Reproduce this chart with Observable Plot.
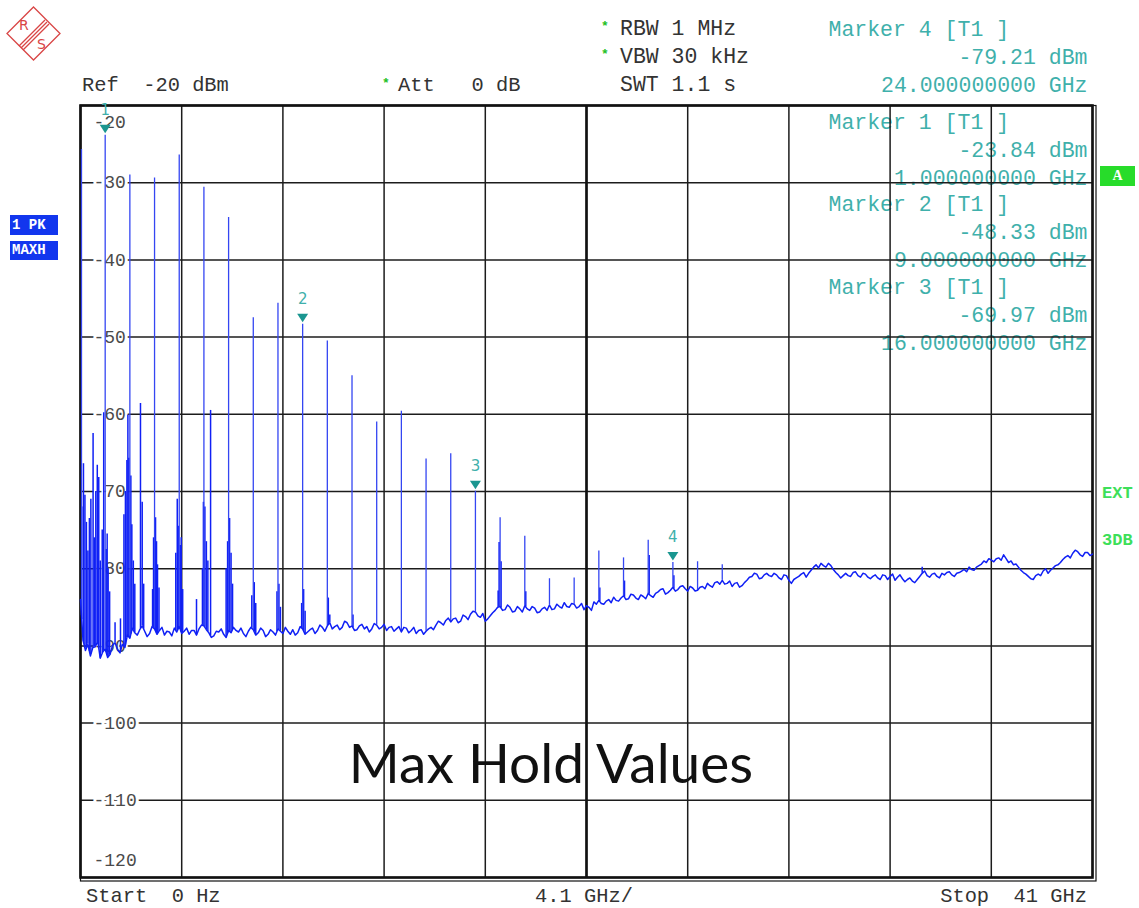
<!DOCTYPE html>
<html><head><meta charset="utf-8">
<script src="https://cdn.jsdelivr.net/npm/d3@7"></script>
<script src="https://cdn.jsdelivr.net/npm/@observablehq/plot@0.6"></script>
<style>
html,body{margin:0;padding:0;background:#fff;}
#page{position:relative;width:1139px;height:908px;overflow:hidden;background:#fff;}
#chart{position:absolute;left:0;top:0;}
.t{position:absolute;white-space:pre;font-family:"Liberation Mono",monospace;line-height:1;transform:translateY(-50%);color:#333;}
.star{position:absolute;font-family:"Liberation Mono",monospace;font-size:13px;font-weight:bold;color:#22c022;line-height:1;}
.box{position:absolute;white-space:pre;color:#fff;font-family:"Liberation Mono",monospace;font-weight:bold;overflow:hidden;}
</style></head>
<body>
<div id="page">
  <div id="chart"></div>

  <svg style="position:absolute;left:0;top:0" width="70" height="70" viewBox="0 0 70 70">
    <g fill="none" stroke="#d94545" stroke-width="1.3">
      <path d="M33.5 7 L60 33.5 L33.5 60 L7 33.5 Z"/>
      <path d="M19 46 L45 20 M21 48 L47 22 M23 50 L49 24"/>
    </g>
    <text x="19" y="30" font-family="DejaVu Sans" font-size="14" fill="#d94545">R</text>
    <text x="37" y="49" font-family="DejaVu Sans" font-size="14" fill="#d94545">S</text>
  </svg>

  <div class="t" style="left:82px;top:86px;font-size:20.4px">Ref  -20 dBm</div>
  <div class="star" style="left:382px;top:77px">*</div>
  <div class="t" style="left:398px;top:86px;font-size:20.4px">Att   0 dB</div>
  <div class="star" style="left:601px;top:20px">*</div>
  <div class="t" style="left:620px;top:30px;font-size:21.5px">RBW 1 MHz</div>
  <div class="star" style="left:601px;top:48px">*</div>
  <div class="t" style="left:620px;top:58px;font-size:21.5px">VBW 30 kHz</div>
  <div class="t" style="left:620px;top:86px;font-size:21.5px">SWT 1.1 s</div>

  <div class="box" style="left:10px;top:215px;width:48px;height:20px;background:#1236ee;font-size:14px;line-height:20px;padding-left:2px;box-sizing:border-box">1 PK</div>
  <div class="box" style="left:10px;top:241px;width:48px;height:19px;background:#1236ee;font-size:14px;line-height:19px;padding-left:2px;box-sizing:border-box">MAXH</div>
  <div class="box" style="left:1100px;top:166px;width:35px;height:20px;background:#27dc2a;font-size:14px;line-height:20px;text-align:center;font-family:'Liberation Serif',serif">A</div>
  <div class="t" style="left:1102px;top:493px;font-size:17px;font-weight:bold;color:#3ddf5a">EXT</div>
  <div class="t" style="left:1102px;top:540px;font-size:17px;font-weight:bold;color:#3ddf5a">3DB</div>

  <div class="t" style="left:86px;top:897px;font-size:20.4px">Start  0 Hz</div>
  <div class="t" style="left:535px;top:897px;font-size:20.4px">4.1 GHz/</div>
  <div class="t" style="right:52px;top:897px;font-size:20.4px">Stop  41 GHz</div>

  <div style="position:absolute;left:551px;top:762px;transform:translate(-50%,-50%);font-family:Lato,'Open Sans',sans-serif;font-size:55px;line-height:1;color:#111;white-space:pre">Max Hold Values</div>
</div>
<script>
// ---- data ----
const floorStepGHz = 0.2;
// max-hold noise floor (dBm) at k, k+0.2, k+0.4, k+0.6, k+0.8 GHz (one row per GHz)
const floorDbm = [
  -84.0, -90.6, -91.3, -90.1, -91.6,
  -90.4, -91.1, -89.6, -90.9, -90.2,
  -89.0, -88.3, -87.9, -88.1, -88.4,
  -87.8, -88.0, -88.6, -88.2, -87.7,
  -87.5, -88.1, -88.5, -88.0, -87.8,
  -87.4, -88.3, -88.7, -88.2, -88.5,
  -88.0, -87.6, -88.2, -88.4, -88.1,
  -87.9, -88.3, -88.0, -88.5, -88.2,
  -87.8, -88.4, -88.1, -87.9, -88.3,
  -87.8, -88.2, -87.7, -88.0, -87.6,
  -87.4, -87.8, -87.3, -87.6, -87.0,
  -87.4, -87.9, -87.2, -87.5, -87.8,
  -87.3, -87.6, -88.0, -87.5, -87.8,
  -88.2, -87.7, -88.0, -88.4, -87.9,
  -88.1, -87.6, -87.3, -87.0, -86.7,
  -86.9, -86.4, -86.8, -86.2, -85.9,
  -85.6, -86.3, -86.8, -86.1, -85.4,
  -84.9, -85.3, -85.0, -85.5, -85.2,
  -84.8, -85.4, -85.1, -85.6, -85.0,
  -84.7, -85.2, -84.9, -84.4, -85.0,
  -84.6, -84.9, -85.3, -85.0, -84.3,
  -84.1, -84.6, -84.0, -83.7, -84.2,
  -83.5, -83.9, -83.4, -84.0, -83.6,
  -83.2, -83.7, -83.0, -82.6, -83.1,
  -82.4, -82.7, -82.2, -82.9, -82.5,
  -82.8, -82.3, -81.9, -82.4, -81.7,
  -81.5, -81.9, -82.3, -81.8, -82.2,
  -81.5, -81.0, -80.7, -81.2, -80.6,
  -81.0, -80.8, -81.4, -80.9, -81.9,
  -81.2, -80.7, -81.1, -80.2, -79.5,
  -79.3, -79.8, -79.6, -80.5, -81.2,
  -80.6, -81.0, -80.4, -81.1, -80.7,
  -81.3, -80.8, -81.4, -80.9, -81.0,
  -81.5, -80.8, -81.7, -81.2, -81.8,
  -81.0, -80.3, -81.1, -80.6, -81.2,
  -80.8, -80.4, -81.0, -80.5, -80.1,
  -79.8, -80.2, -79.6, -79.0, -78.7,
  -79.1, -78.6, -78.2, -79.2, -79.5,
  -79.8, -80.5, -81.0, -81.4, -80.7,
  -80.3, -80.6, -79.9, -79.5, -78.8,
  -78.3, -78.0, -77.8, -78.4, -77.9,
  -78.1
];
// in-between trace samples at k+0.1, k+0.3, k+0.5, k+0.7, k+0.9 GHz (one row per GHz)
const floorMidDbm = [
  -89.2, -89.8, -90.2, -89.4, -90.8,
  -91.5, -89.9, -90.5, -89.8, -88.6,
  -87.7, -88.6, -87.4, -88.8, -87.5,
  -88.5, -87.6, -88.1, -88.7, -88.2,
  -88.4, -87.7, -88.0, -88.6, -87.3,
  -87.9, -88.9, -88.1, -87.8, -88.9,
  -88.3, -88.0, -87.7, -88.8, -87.6,
  -88.6, -87.7, -88.8, -87.9, -88.6,
  -88.1, -87.6, -88.5, -88.6, -87.5,
  -88.5, -87.9, -88.4, -87.3, -88.1,
  -87.0, -87.5, -87.9, -86.8, -87.6,
  -88.0, -87.4, -87.8, -88.2, -87.1,
  -87.8, -87.2, -87.6, -88.1, -87.5,
  -87.6, -88.3, -87.6, -88.0, -88.5,
  -87.8, -87.9, -86.8, -87.3, -86.4,
  -86.5, -87.0, -86.0, -86.6, -85.5,
  -86.1, -85.8, -86.5, -85.7, -85.0,
  -85.4, -84.7, -85.6, -84.9, -85.6,
  -85.2, -84.9, -85.7, -85.2, -85.4,
  -85.3, -84.6, -85.1, -84.9, -84.5,
  -85.1, -84.5, -84.8, -85.4, -84.6,
  -84.5, -84.2, -84.4, -84.1, -83.8,
  -84.0, -83.3, -83.8, -83.4, -83.9,
  -83.5, -83.2, -82.7, -83.3, -82.8,
  -82.9, -82.3, -82.6, -82.3, -82.9,
  -82.4, -82.6, -82.2, -81.8, -82.0,
  -82.0, -81.6, -81.9, -82.4, -81.8,
  -81.1, -80.6, -81.3, -80.8, -80.9,
  -80.6, -81.2, -80.8, -81.5, -81.4,
  -81.0, -80.5, -80.6, -79.8, -79.9,
  -79.6, -79.3, -80.1, -80.8, -80.9,
  -80.9, -80.5, -80.9, -80.6, -81.1,
  -81.0, -81.2, -80.8, -81.4, -80.7,
  -81.1, -81.3, -81.4, -81.6, -81.4,
  -80.6, -80.9, -80.7, -81.0, -80.6,
  -80.5, -80.8, -80.6, -80.3, -80.4,
  -80.1, -79.8, -79.4, -79.2, -78.9,
  -78.7, -78.9, -78.7, -79.0, -79.4,
  -80.2, -80.7, -81.3, -80.9, -80.9,
  -80.0, -80.2, -79.6, -79.2, -78.5,
  -78.6, -77.6, -78.2, -77.9, -78.3
];
// harmonic comb lines
const harmonicGHz = [0.04, 1, 2, 3, 4, 5, 6, 7, 8, 9, 10, 11, 12, 13, 14, 15, 16, 17, 18, 19, 20, 21, 22, 23, 24, 25, 26];
const harmonicDbm = [-25.7, -23.84, -29.0, -29.4, -26.4, -30.6, -34.5, -47.5, -45.6, -48.33, -50.5, -55.0, -61.0, -59.6, -65.8, -65.1, -69.97, -73.4, -75.8, -81.3, -81.2, -77.7, -78.6, -76.3, -79.21, -79.1, -79.5];
// secondary spurs / skirts around the harmonics
const spurGHz = [0.05, 0.12, 0.18, 0.24, 0.30, 0.36, 0.42, 0.51, 0.56, 0.62, 0.68, 0.74, 0.80, 0.88, 0.94,
  1.04, 1.08, 1.12, 1.18, 1.40, 1.62, 1.76, 1.82, 1.88, 1.92, 1.96, 2.04, 2.08, 2.14, 2.20,
  2.43, 2.50, 2.56, 2.92, 2.96, 3.04, 3.08, 3.12, 3.18, 3.86, 3.92, 3.96, 4.04, 4.08, 4.14,
  4.70, 4.94, 4.98, 5.04, 5.10, 5.16, 5.27, 5.90, 5.96, 6.04, 6.10, 6.16, 6.94, 7.04, 7.10,
  7.96, 8.04, 8.10, 8.96, 9.04, 9.10, 10.04, 10.10, 11.04, 16.92, 16.96, 17.04, 18.04, 21.04,
  22.04, 23.04, 24.04, 34.10];
const spurDbm = [-72.0, -66.4, -70.5, -74.0, -77.7, -73.5, -71.0, -62.5, -76.0, -70.0, -66.6, -68.2, -79.0, -75.0, -59.8,
  -77.5, -75.5, -80.0, -83.0, -87.0, -86.5, -73.0, -70.0, -66.0, -60.1, -65.7, -68.0, -74.3, -79.0, -82.0,
  -58.6, -71.4, -82.0, -82.7, -76.0, -73.4, -76.5, -79.5, -82.5, -78.0, -71.0, -74.5, -77.0, -76.0, -82.7,
  -84.0, -80.0, -71.4, -72.0, -76.5, -79.0, -59.5, -80.0, -76.5, -73.5, -78.0, -82.0, -83.5, -81.8, -84.5,
  -83.0, -82.0, -85.0, -84.5, -82.7, -85.5, -83.8, -86.0, -86.0, -82.9, -76.6, -79.1, -83.0, -82.5,
  -81.6, -78.3, -80.9, -79.8];
// markers
const markerId = [1, 2, 3, 4];
const markerGHz = [1, 9, 16, 24];
const markerDbm = [-23.84, -48.33, -69.97, -79.21];
// axes
const yTickDbm = [-20, -30, -40, -50, -60, -70, -80, -90, -100, -110, -120];
const spanGHz = [0, 41];
const divisionGHz = 4.1;

// ---- derived tables ----
const xGrid = d3.range(0, 11).map(i => +(i * divisionGHz).toFixed(2));
const trace = [];
floorDbm.forEach((v, i) => {
  trace.push({f: +(i * floorStepGHz).toFixed(2), v});
  if (i < floorMidDbm.length) trace.push({f: +(i * floorStepGHz + floorStepGHz / 2).toFixed(2), v: floorMidDbm[i]});
});
const half = floorStepGHz / 2;
function floorAt(f) {
  const i = Math.floor(f / half);
  const a = trace[Math.min(i, trace.length - 1)].v;
  const b = trace[Math.min(i + 1, trace.length - 1)].v;
  const t = f / half - i;
  return a + (b - a) * t;
}
const harm = harmonicGHz.map((f, i) => ({f, v: harmonicDbm[i], base: floorAt(f)}));
const spurs = spurGHz.map((f, i) => ({f, v: spurDbm[i], base: floorAt(f)}));
const markers = markerId.map((id, i) => ({id, f: markerGHz[i], v: markerDbm[i]}));

// marker read-out block: display order 4,1,2,3
const infoOrder = [4, 1, 2, 3];
const infoCy = [29, 122, 204, 287];
const lineOff = [0, 27.5, 55.5];
const marginTop = 105;
const teal = "#3fb0ab";
const mono = "Liberation Mono";
const infoMarks = [];
infoOrder.forEach((id, k) => {
  const i = markerId.indexOf(id);
  const cy = infoCy[k] - marginTop;
  const common = {text: d => d, lineAnchor: "middle", fill: teal, fontSize: 21.5, fontFamily: mono};
  infoMarks.push(Plot.text([`Marker ${id} [T1 ]`], {...common, frameAnchor: "top-left", textAnchor: "start", dx: 748, dy: cy + lineOff[0]}));
  infoMarks.push(Plot.text([`${markerDbm[i].toFixed(2)} dBm`], {...common, frameAnchor: "top-right", textAnchor: "end", dx: -5, dy: cy + lineOff[1]}));
  infoMarks.push(Plot.text([`${markerGHz[i].toFixed(9)} GHz`], {...common, frameAnchor: "top-right", textAnchor: "end", dx: -5, dy: cy + lineOff[2]}));
});

const downTriangle = {
  draw(context) {
    context.moveTo(-5.5, -8.5);
    context.lineTo(5.5, -8.5);
    context.lineTo(0, 0);
    context.closePath();
  }
};

const labelStyle = {frameAnchor: "left", dx: 13, textAnchor: "start", fill: "#4a4a4a", fontSize: 18, fontFamily: mono, stroke: "white", strokeWidth: 6};
const blue = "#1020f5";
const blue2 = "#3446f2";

const chart = Plot.plot({
  width: 1139, height: 908,
  marginLeft: 80, marginRight: 47, marginTop: marginTop, marginBottom: 31,
  x: {domain: spanGHz, axis: null},
  y: {domain: [-120, -20], axis: null},
  style: {background: "transparent", overflow: "visible"},
  marks: [
    ...infoMarks,
    Plot.ruleX(xGrid, {stroke: "#1c1c1c", strokeWidth: 1.5}),
    Plot.ruleY(yTickDbm, {stroke: "#1c1c1c", strokeWidth: 1.5}),
    Plot.ruleX([(spanGHz[0] + spanGHz[1]) / 2], {stroke: "#111", strokeWidth: 2.6}),
    Plot.text(yTickDbm.filter(d => d !== -20 && d !== -120), {y: d => d, text: d => String(d), ...labelStyle}),
    Plot.text([-20], {y: d => d, text: d => String(d), ...labelStyle, dy: 17}),
    Plot.text([-120], {y: d => d, text: d => String(d), ...labelStyle, dy: -17}),
    Plot.frame({stroke: "#111", strokeWidth: 2.6}),
    Plot.frame({stroke: "#111", strokeWidth: 1.2, insetRight: -3.5, insetBottom: -3.5}),
    Plot.ruleX(spurs, {x: "f", y1: "base", y2: "v", stroke: blue, strokeWidth: 1.5}),
    Plot.ruleX(harm, {x: "f", y1: "base", y2: "v", stroke: blue2, strokeWidth: 1.3}),
    Plot.line(trace, {x: "f", y: "v", stroke: blue, strokeWidth: 1.5}),
    Plot.dot(markers, {x: "f", y: "v", symbol: downTriangle, r: 5, fill: "#1a9690", stroke: "none", dy: -2}),
    Plot.text(markers, {x: "f", y: "v", text: d => String(d.id), dy: -25, fill: teal, fontSize: 15, fontFamily: "DejaVu Sans"})
  ]
});
document.getElementById("chart").appendChild(chart);
</script>
</body></html>
